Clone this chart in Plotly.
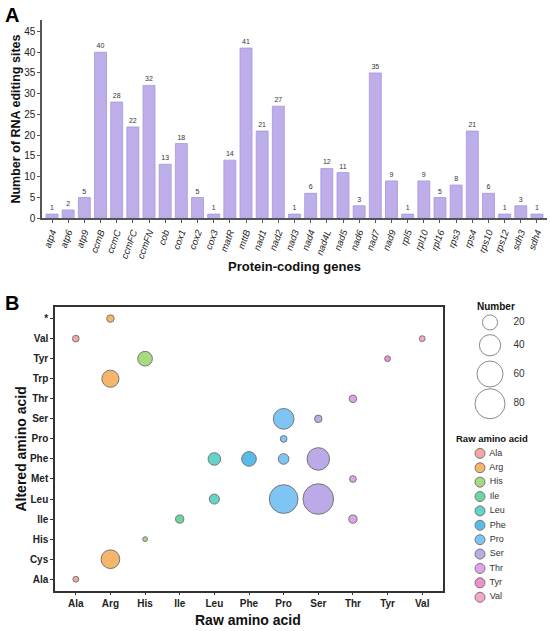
import numpy as np
import plotly.graph_objects as go

# ---- panel A data ----
genes = ["atp4", "atp6", "atp9", "ccmB", "ccmC", "ccmFC", "ccmFN", "cob", "cox1", "cox2",
         "cox3", "matR", "mttB", "nad1", "nad2", "nad3", "nad4", "nad4L", "nad5", "nad6",
         "nad7", "nad9", "rpl5", "rpl10", "rpl16", "rps3", "rps4", "rps10", "rps12", "sdh3", "sdh4"]
sites = [1, 2, 5, 40, 28, 22, 32, 13, 18, 5,
         1, 14, 41, 21, 27, 1, 6, 12, 11, 3,
         35, 9, 1, 9, 5, 8, 21, 6, 1, 3, 1]

# ---- panel B data ----
raw_levels = ["Ala", "Arg", "His", "Ile", "Leu", "Phe", "Pro", "Ser", "Thr", "Tyr", "Val"]
alt_levels = ["Ala", "Cys", "His", "Ile", "Leu", "Met", "Phe", "Pro", "Ser", "Thr", "Trp", "Tyr", "Val", "*"]
raw_aa = ["Ala", "Ala", "Arg", "Arg", "Arg", "His", "His", "Ile", "Leu", "Leu", "Phe", "Pro",
          "Pro", "Pro", "Pro", "Ser", "Ser", "Ser", "Thr", "Thr", "Thr", "Tyr", "Val"]
alt_aa = ["Ala", "Val", "Cys", "Trp", "*", "His", "Tyr", "Ile", "Leu", "Phe", "Phe", "Leu",
          "Phe", "Pro", "Ser", "Leu", "Phe", "Ser", "Ile", "Met", "Thr", "Tyr", "Val"]
counts = [3, 4, 31, 26, 5, 2, 19, 6, 9, 14, 19, 73,
          10, 4, 38, 83, 45, 5, 6, 4, 5, 3, 3]
size_legend = [20, 40, 60, 80]

aa_colors = {
    "Ala": "#F4A7A0", "Arg": "#F5B56A", "His": "#A6DB7E", "Ile": "#6FD4A4",
    "Leu": "#63D4C9", "Phe": "#5ABAEA", "Pro": "#7EC5F4", "Ser": "#BCAAE8",
    "Thr": "#E0A2EA", "Tyr": "#EE90CF", "Val": "#F6A6C8",
}

W, H = 550, 631
FONT = "Arial, Liberation Sans, sans-serif"
SIZEREF = 0.177  # diameter ~ 3.36*sqrt(n)


def px_x(p):
    return p / W


def px_y(p):
    return 1 - p / H


fig = go.Figure()

# bars
fig.add_trace(go.Bar(
    x=genes, y=sites, text=sites, textposition="outside",
    textfont=dict(size=7, color="#333333", family=FONT),
    marker=dict(color="#BDAEE9", line=dict(color="#A697DE", width=0.8)),
    width=0.74, cliponaxis=False, xaxis="x", yaxis="y", showlegend=False,
))

# bubbles, one trace per raw amino acid
raw_arr = np.array(raw_aa)
alt_arr = np.array(alt_aa)
cnt_arr = np.array(counts)
for aa in raw_levels:
    m = raw_arr == aa
    fig.add_trace(go.Scatter(
        x=raw_arr[m].tolist(), y=alt_arr[m].tolist(), mode="markers",
        marker=dict(size=cnt_arr[m].tolist(), sizemode="area", sizeref=SIZEREF, opacity=1,
                    color=aa_colors[aa], line=dict(color="#777777", width=1)),
        xaxis="x2", yaxis="y2", showlegend=False, name=aa, cliponaxis=False,
    ))

# size legend (overlay axes in pixel units)
n_y = [325, 348, 377, 407]
fig.add_trace(go.Scatter(
    x=[490] * len(size_legend), y=n_y, mode="markers",
    marker=dict(size=size_legend, sizemode="area", sizeref=SIZEREF, opacity=1,
                color="white", line=dict(color="#8A8A8A", width=1)),
    xaxis="x3", yaxis="y3", showlegend=False, hoverinfo="skip",
))
fig.add_trace(go.Scatter(
    x=[519] * len(size_legend), y=n_y, mode="text",
    text=[str(s) for s in size_legend],
    textfont=dict(size=10, color="#333333", family=FONT),
    xaxis="x3", yaxis="y3", showlegend=False, hoverinfo="skip",
))

# colour legend
leg_y = [457 + i * 14.5 for i in range(len(raw_levels))]
fig.add_trace(go.Scatter(
    x=[480] * len(raw_levels), y=leg_y, mode="markers+text",
    marker=dict(size=10, color=[aa_colors[a] for a in raw_levels], opacity=1,
                line=dict(color="#777777", width=1)),
    text=[" " + a for a in raw_levels], textposition="middle right",
    textfont=dict(size=9, color="#333333", family=FONT),
    xaxis="x3", yaxis="y3", showlegend=False, hoverinfo="skip",
))

axis_font = dict(family=FONT, size=10, color="#222222")


def note(text, x, y, size, anchor="center"):
    return dict(text=text, x=px_x(x), y=px_y(y), xref="paper", yref="paper",
                xanchor=anchor, yanchor="middle", showarrow=False,
                font=dict(size=size, family=FONT, color="#111111"))


fig.update_layout(
    width=W, height=H,
    margin=dict(l=0, r=0, t=0, b=0),
    paper_bgcolor="white", plot_bgcolor="rgba(0,0,0,0)",
    font=dict(family=FONT, color="#222222"),
    xaxis=dict(
        domain=[px_x(42), px_x(547)], range=[-0.62, 30.62],
        tickangle=-70, tickfont=dict(family=FONT, size=9.5, color="#222222"),
        tickmode="array", tickvals=genes, ticktext=["<i>%s</i>" % g for g in genes],
        showline=True, linecolor="#555555", linewidth=1.5,
        ticks="outside", ticklen=3, tickcolor="#555555",
        showgrid=False, zeroline=False, anchor="y",
    ),
    yaxis=dict(
        domain=[px_y(220), px_y(20)], range=[0, 47.8],
        tickvals=list(range(0, 50, 5)), tickfont=axis_font,
        showline=True, linecolor="#555555", linewidth=1.5,
        ticks="outside", ticklen=3, tickcolor="#555555",
        showgrid=False, zeroline=False, anchor="x",
        title=dict(text="<b>Number of RNA editing sites</b>", font=dict(size=12.5, family=FONT, color="#111111"),
                   standoff=1),
    ),
    xaxis2=dict(
        domain=[px_x(55), px_x(443)], range=[-0.6, 10.6],
        type="category", categoryorder="array", categoryarray=raw_levels,
        tickvals=raw_levels, ticktext=["<b>%s</b>" % a for a in raw_levels],
        tickfont=dict(family=FONT, size=10, color="#222222"),
        showline=True, mirror=True, linecolor="#333333", linewidth=1.5,
        ticks="outside", ticklen=2, tickcolor="#333333",
        showgrid=False, zeroline=False, anchor="y2",
    ),
    yaxis2=dict(
        domain=[px_y(596), px_y(309)], range=[-0.6, 13.6],
        type="category", categoryorder="array", categoryarray=alt_levels,
        tickvals=alt_levels, ticktext=["<b>%s</b>" % a for a in alt_levels],
        tickfont=dict(family=FONT, size=10, color="#222222"),
        showline=True, mirror=True, linecolor="#333333", linewidth=1.5,
        ticks="outside", ticklen=3, tickcolor="#333333",
        showgrid=False, zeroline=False, anchor="x2",
        title=dict(text="<b>Altered amino acid</b>", font=dict(size=14, family=FONT, color="#111111"),
                   standoff=0),
    ),
    xaxis3=dict(domain=[0, 1], range=[0, W], visible=False, anchor="y3", fixedrange=True),
    yaxis3=dict(domain=[0, 1], range=[H, 0], visible=False, anchor="x3", fixedrange=True),
    annotations=[
        dict(text="<b>A</b>", x=px_x(3), y=px_y(2), xref="paper", yref="paper",
             xanchor="left", yanchor="top", showarrow=False, font=dict(size=20, family=FONT, color="#000")),
        dict(text="<b>B</b>", x=px_x(3), y=px_y(292), xref="paper", yref="paper",
             xanchor="left", yanchor="top", showarrow=False, font=dict(size=20, family=FONT, color="#000")),
        note("<b>Protein-coding genes</b>", 294, 269, 13),
        note("<b>Raw amino acid</b>", 248, 625, 14),
        note("<b>Number</b>", 496, 309, 10),
        note("<b>Raw amino acid</b>", 492, 442, 9.5),
    ],
)

# remove the default 8px page margin so the figure sits at the window's corner
fig.write_html("out.html", config={"displayModeBar": False},
               post_script="document.body.style.margin='0';")
